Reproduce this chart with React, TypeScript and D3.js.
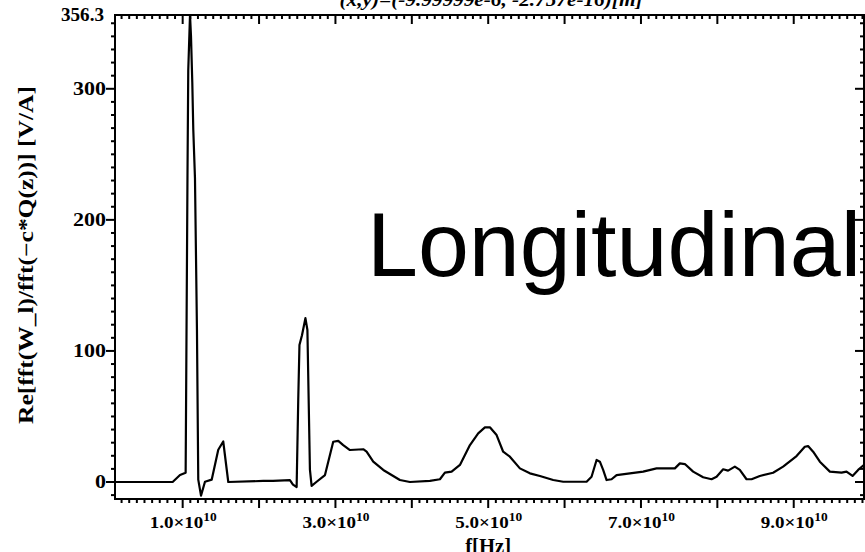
import React from "react";
import * as d3 from "d3";

// Frequency in GHz (x 1e9 Hz) and Re[...] values in V/A
const freqGHz = [
  1.14, 8.69, 9.65, 10.39, 10.63, 10.73, 10.96, 11.09, 11.26, 11.39, 11.61, 11.87, 12.04, 12.4,
  12.92, 13.8, 14.66, 15.31, 15.97, 20.55, 21.82, 24.04, 24.44, 24.92, 25.13, 25.29, 25.62,
  26.07, 26.33, 26.66, 26.88, 27.54, 28.63, 29.71, 30.37, 31.02, 31.9, 33.64, 34.08, 34.95,
  36.26, 38.44, 39.75, 42.37, 43.68, 44.33, 45.21, 46.3, 47.61, 48.69, 49.57, 50.22, 51.1,
  51.96, 52.84, 54.15, 55.46, 56.77, 58.51, 59.82, 62.88, 63.53, 64.19, 64.62, 65.05, 65.5,
  66.15, 66.81, 68.55, 70.29, 72.04, 74.44, 75.09, 75.75, 76.83, 78.14, 79.24, 79.9, 80.76,
  81.41, 82.29, 82.94, 83.82, 84.48, 85.56, 87.3, 88.61, 90.37, 91.45, 91.88, 92.54, 93.42,
  94.73, 96.26, 96.91, 97.7, 98.43, 99.18,
];
const values = [
  0, 0, 5.3, 7.1, 234, 314, 356.3, 340, 304.6, 268.8, 232, 116, 1.8, -10.4,
  0.2, 1.8, 24.6, 30.9, 0, 0.8, 0.8, 1.5, -2, -3.8, 62.5, 104.5, 112,
  125, 116, 9.4, -3.0, 0.2, 5.3, 30.7, 31.4, 28.2, 24.4, 25, 23.1, 15.5,
  9.2, 1.5, 0, 0.8, 2.1, 7.1, 7.9, 13.0, 28.2, 37.1, 41.7, 41.7, 35.8,
  23.1, 19.3, 10.4, 6.6, 4.6, 1.5, 0.2, 0.2, 4.0, 16.8, 15.5, 9.2, 1.5,
  2.1, 5.3, 6.6, 7.9, 10.4, 10.4, 14.2, 13.7, 7.9, 3.6, 2.1, 4.0, 9.7,
  8.7, 11.7, 9.2, 2.1, 2.1, 4.6, 7.1, 11.7, 19.8, 26.9, 27.4, 23.1, 15.5,
  7.9, 7.1, 7.9, 4.6, 9.2, 13,
];

const xMajorTicks = [1e10, 2e10, 3e10, 4e10, 5e10, 6e10, 7e10, 8e10, 9e10];
const xLabelTicks = [1e10, 3e10, 5e10, 7e10, 9e10];
const xLabelMantissa = ["1.0", "3.0", "5.0", "7.0", "9.0"];
const yLabelTicks = [0, 100, 200, 300];
const yMaxLabel = "356.3";
const titleText = "(x,y)=(-9.99999e-6, -2.757e-16)[m]";
const xAxisTitle = "f[Hz]";
const yAxisTitle = "Re[fft(W_l)/fft(\u2212c*Q(z))] [V/A]";
const annotation = "Longitudinal";

export default function App() {
  const W = 865, H = 552;
  const left = 115, right = 864, top = 15, bottom = 499;
  const x = d3.scaleLinear().domain([1.14e9, 99.2e9]).range([left, right]);
  const y = d3.scaleLinear().domain([-12.97, 356.3]).range([bottom, top]);

  const pts: [number, number][] = freqGHz.map((f, i) => [f * 1e9, values[i]]);
  const line = d3
    .line<[number, number]>()
    .x((d) => x(d[0]))
    .y((d) => y(d[1]));

  const xMinor = d3.range(2e9, 99.2e9, 1e9).filter((v) => Math.round(v / 1e9) % 10 !== 0);
  const yMinor = d3.range(-10, 356, 10).filter((v) => v % 100 !== 0);

  const serif = "'Liberation Serif', 'DejaVu Serif', serif";
  const majLen = 9, minLen = 4;
  const digitW = 11;

  return (
    <div style={{ position: "fixed", left: 0, top: 0 }}>
      <svg width={W} height={H} style={{ display: "block", background: "#fff" }}>
        <defs>
          <clipPath id="plotclip">
            <rect x={left} y={top - 2} width={right - left} height={bottom - top + 2} />
          </clipPath>
        </defs>
        {/* title, clipped at top as in the reference */}
        <text x={491} y={6} textAnchor="middle" fontFamily={serif} fontWeight="bold" fontStyle="italic" fontSize={18}
          textLength={303} lengthAdjust="spacingAndGlyphs">
          {titleText}
        </text>

        {/* frame */}
        <rect x={left} y={top} width={right - left} height={bottom - top} fill="none" stroke="#000" strokeWidth={2} />

        {/* x ticks bottom & top (all pointing down) */}
        {xMajorTicks.map((t) => (
          <g key={"xm" + t}>
            <line x1={x(t)} x2={x(t)} y1={bottom} y2={bottom + majLen} stroke="#000" strokeWidth={2} />
            <line x1={x(t)} x2={x(t)} y1={top} y2={top + majLen} stroke="#000" strokeWidth={2} />
          </g>
        ))}
        {xMinor.map((t) => (
          <g key={"xn" + t}>
            <line x1={x(t)} x2={x(t)} y1={bottom} y2={bottom + minLen} stroke="#000" strokeWidth={2} />
            <line x1={x(t)} x2={x(t)} y1={top} y2={top + minLen} stroke="#000" strokeWidth={2} />
          </g>
        ))}

        {/* y ticks left & right (all pointing left) */}
        {yLabelTicks.map((t) => (
          <g key={"ym" + t}>
            <line x1={left - majLen} x2={left} y1={y(t)} y2={y(t)} stroke="#000" strokeWidth={2} />
            <line x1={right - majLen} x2={right} y1={y(t)} y2={y(t)} stroke="#000" strokeWidth={2} />
          </g>
        ))}
        {yMinor.map((t) => (
          <g key={"yn" + t}>
            <line x1={left - minLen} x2={left} y1={y(t)} y2={y(t)} stroke="#000" strokeWidth={2} />
            <line x1={right - minLen} x2={right} y1={y(t)} y2={y(t)} stroke="#000" strokeWidth={2} />
          </g>
        ))}

        {/* y tick labels */}
        {yLabelTicks.map((t) => (
          <text key={"yl" + t} x={left - 9} y={y(t)} dy="0.35em" textAnchor="end" fontFamily={serif} fontWeight="bold" fontSize={18}
            textLength={String(t).length * digitW} lengthAdjust="spacingAndGlyphs">
            {t}
          </text>
        ))}
        <text x={left - 11} y={top} dy="0.35em" textAnchor="end" fontFamily={serif} fontWeight="bold" fontSize={18}
          textLength={43} lengthAdjust="spacingAndGlyphs">
          {yMaxLabel}
        </text>

        {/* x tick labels */}
        {xLabelTicks.map((t, i) => (
          <text key={"xl" + t} x={x(t) - 33} y={528} textAnchor="start" fontFamily={serif} fontWeight="bold" fontSize={17}
            textLength={67} lengthAdjust="spacingAndGlyphs">
            {xLabelMantissa[i]}
            {"\u00d710"}
            <tspan dy={-7} fontSize={12}>10</tspan>
          </text>
        ))}

        {/* axis titles */}
        <text x={x(5e10)} y={553} textAnchor="middle" fontFamily={serif} fontWeight="bold" fontSize={20}
          textLength={46} lengthAdjust="spacingAndGlyphs">
          {xAxisTitle}
        </text>
        <text
          transform={`translate(33, 255) rotate(-90)`}
          textAnchor="middle"
          fontFamily={serif}
          fontWeight="bold"
          fontSize={20}
          textLength={338}
          lengthAdjust="spacingAndGlyphs"
        >
          {yAxisTitle}
        </text>

        {/* data curve */}
        <path d={line(pts) || ""} fill="none" stroke="#000" strokeWidth={2.2} strokeLinejoin="round" clipPath="url(#plotclip)" />

        {/* annotation */}
        <text x={367} y={276} fontFamily="'Liberation Sans', Arial, sans-serif" fontSize={91}
          textLength={494} lengthAdjust="spacingAndGlyphs">
          {annotation}
        </text>
      </svg>
    </div>
  );
}
